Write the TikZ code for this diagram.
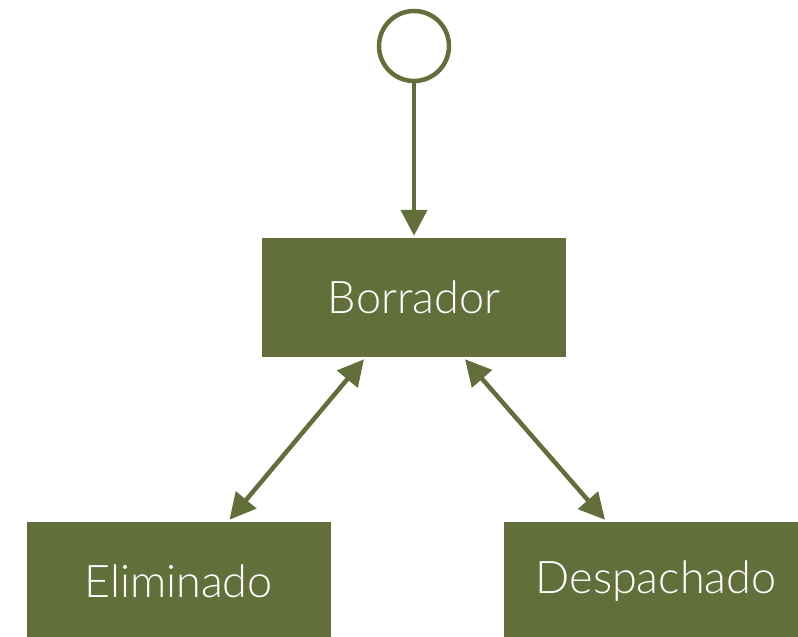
\documentclass[tikz,border=0pt]{standalone}
\usepackage{fontspec}
\setmainfont{Lato}[UprightFont=* Light]
\usepackage{tikz}
\usetikzlibrary{arrows.meta}
\definecolor{oliva}{RGB}{98,111,59}

\begin{document}
\begin{tikzpicture}[x=1pt, y=-1pt, line width=4.5pt,
    estado/.style={fill=oliva, text=white, minimum width=304pt, minimum height=119pt,
                   inner sep=0pt, font=\fontsize{45}{52}\selectfont},
    punta/.tip={Triangle[length=26pt, width=26pt]},
    flecha/.style={draw=oliva, -punta}]
    \useasboundingbox (0,0) rectangle (798,637);
    \node[circle, draw=oliva, minimum size=70pt, inner sep=0pt](ini) at (414,46) {};
    \node[estado](borr) at (414,297.5) {Borrador};
    \node[estado](elim) at (178.5,581.5) {Eliminado};
    \node[estado](desp) at (656,581.5) {Despachado};

    \draw[flecha] (ini) -- (borr);
    \draw[flecha, punta-punta] ([xshift=-50pt]borr.south) -- ([xshift=51pt]elim.north);
    \draw[flecha, punta-punta] ([xshift=51pt]borr.south) -- ([xshift=-51pt]desp.north);
  \end{tikzpicture}
\end{document}
